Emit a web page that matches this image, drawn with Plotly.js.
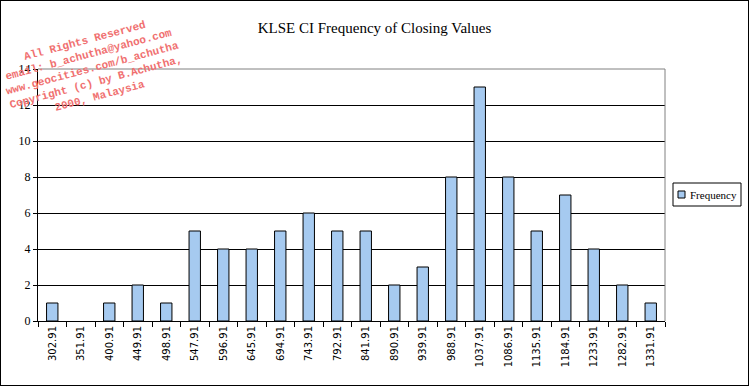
<!DOCTYPE html>
<html><head><meta charset="utf-8">
<script src="https://cdn.plot.ly/plotly-3.0.1.min.js"></script>
<style>html,body{margin:0;padding:0;background:#fff}#c{width:747px;height:384px;border:1px solid #000}</style>
</head><body><div id="c"></div>
<script>
const categories = ["302.91","351.91","400.91","449.91","498.91","547.91","596.91","645.91","694.91","743.91","792.91","841.91","890.91","939.91","988.91","1037.91","1086.91","1135.91","1184.91","1233.91","1282.91","1331.91"];
const frequency = [1,0,1,2,1,5,4,4,5,6,5,5,2,3,8,13,8,5,7,4,2,1];
const yTicks = [0,2,4,6,8,10,12,14];
const seriesName = "Frequency";
const watermark = "All Rights Reserved<br>email: b_achutha@yahoo.com<br>www.geocities.com/b_achutha<br>Copyright (c) by B.Achutha,<br>2000, Malaysia";

const W = 747, H = 384;
const px = x => x / W, py = y => 1 - y / H;  // container coords helpers for the custom legend

Plotly.newPlot('c', [{
  type: 'bar', x: categories, y: frequency, name: seriesName,
  marker: {color: '#a6caf0', line: {color: '#000', width: frequency.map(v => v === 0 ? 0 : 1)}}
}], {
  width: W, height: H,
  margin: {l: 37, r: 83, t: 68, b: 64, autoexpand: false},
  paper_bgcolor: '#fff', plot_bgcolor: '#fff',
  bargap: 0.6,
  showlegend: false,
  title: {text: 'KLSE CI Frequency of Closing Values', x: 0.5, xref: 'container', y: 0.93, yanchor: 'middle',
    font: {family: 'Liberation Serif, Times New Roman, serif', size: 15, color: '#000'}},
  xaxis: {type: 'category', tickson: 'boundaries', ticks: 'outside', ticklen: 5, tickcolor: '#000',
    tickangle: -90, showline: true, linecolor: '#000', linewidth: 1, showgrid: false,
    tickfont: {family: 'DejaVu Sans, Verdana, sans-serif', size: 10, color: '#000'}},
  yaxis: {range: [0, 14], tickvals: yTicks, ticks: 'outside', ticklen: 4, tickcolor: '#000',
    showline: true, linecolor: '#000', linewidth: 1, showgrid: true, gridcolor: '#000', gridwidth: 1,
    zeroline: false, fixedrange: true,
    tickfont: {family: 'Liberation Serif, Times New Roman, serif', size: 12, color: '#000'}},
  shapes: [
    {type: 'line', xref: 'paper', yref: 'paper', x0: 0, x1: 1, y0: 1, y1: 1, line: {color: '#808080', width: 1}},
    {type: 'line', xref: 'paper', yref: 'paper', x0: 1, x1: 1, y0: 0, y1: 1, line: {color: '#808080', width: 1}},
    // legend box
    {type: 'rect', xref: 'paper', yref: 'paper', x0: (672-37)/627, x1: (740-37)/627, y0: (320-205)/252, y1: (320-182)/252,
      line: {color: '#000', width: 1}, fillcolor: '#fff'},
    {type: 'rect', xref: 'paper', yref: 'paper', x0: (677-37)/627, x1: (684-37)/627, y0: (320-197)/252, y1: (320-190)/252,
      line: {color: '#000', width: 1}, fillcolor: '#a6caf0'}
  ],
  annotations: [{
    text: watermark, xref: 'paper', yref: 'paper', x: (91-37)/627, y: (320-67)/252, xanchor: 'center', yanchor: 'middle',
    showarrow: false, textangle: -15, align: 'center',
    font: {family: 'Liberation Mono, Courier New, monospace', size: 11, color: '#f07070', weight: 'bold'}
  }, {
    text: seriesName, xref: 'paper', yref: 'paper', x: (687-37)/627, y: (320-193.5)/252, xanchor: 'left', yanchor: 'middle',
    showarrow: false, font: {family: 'Liberation Serif, Times New Roman, serif', size: 11, color: '#000'}
  }]
}, {displayModeBar: false, staticPlot: true});
</script></body></html>
